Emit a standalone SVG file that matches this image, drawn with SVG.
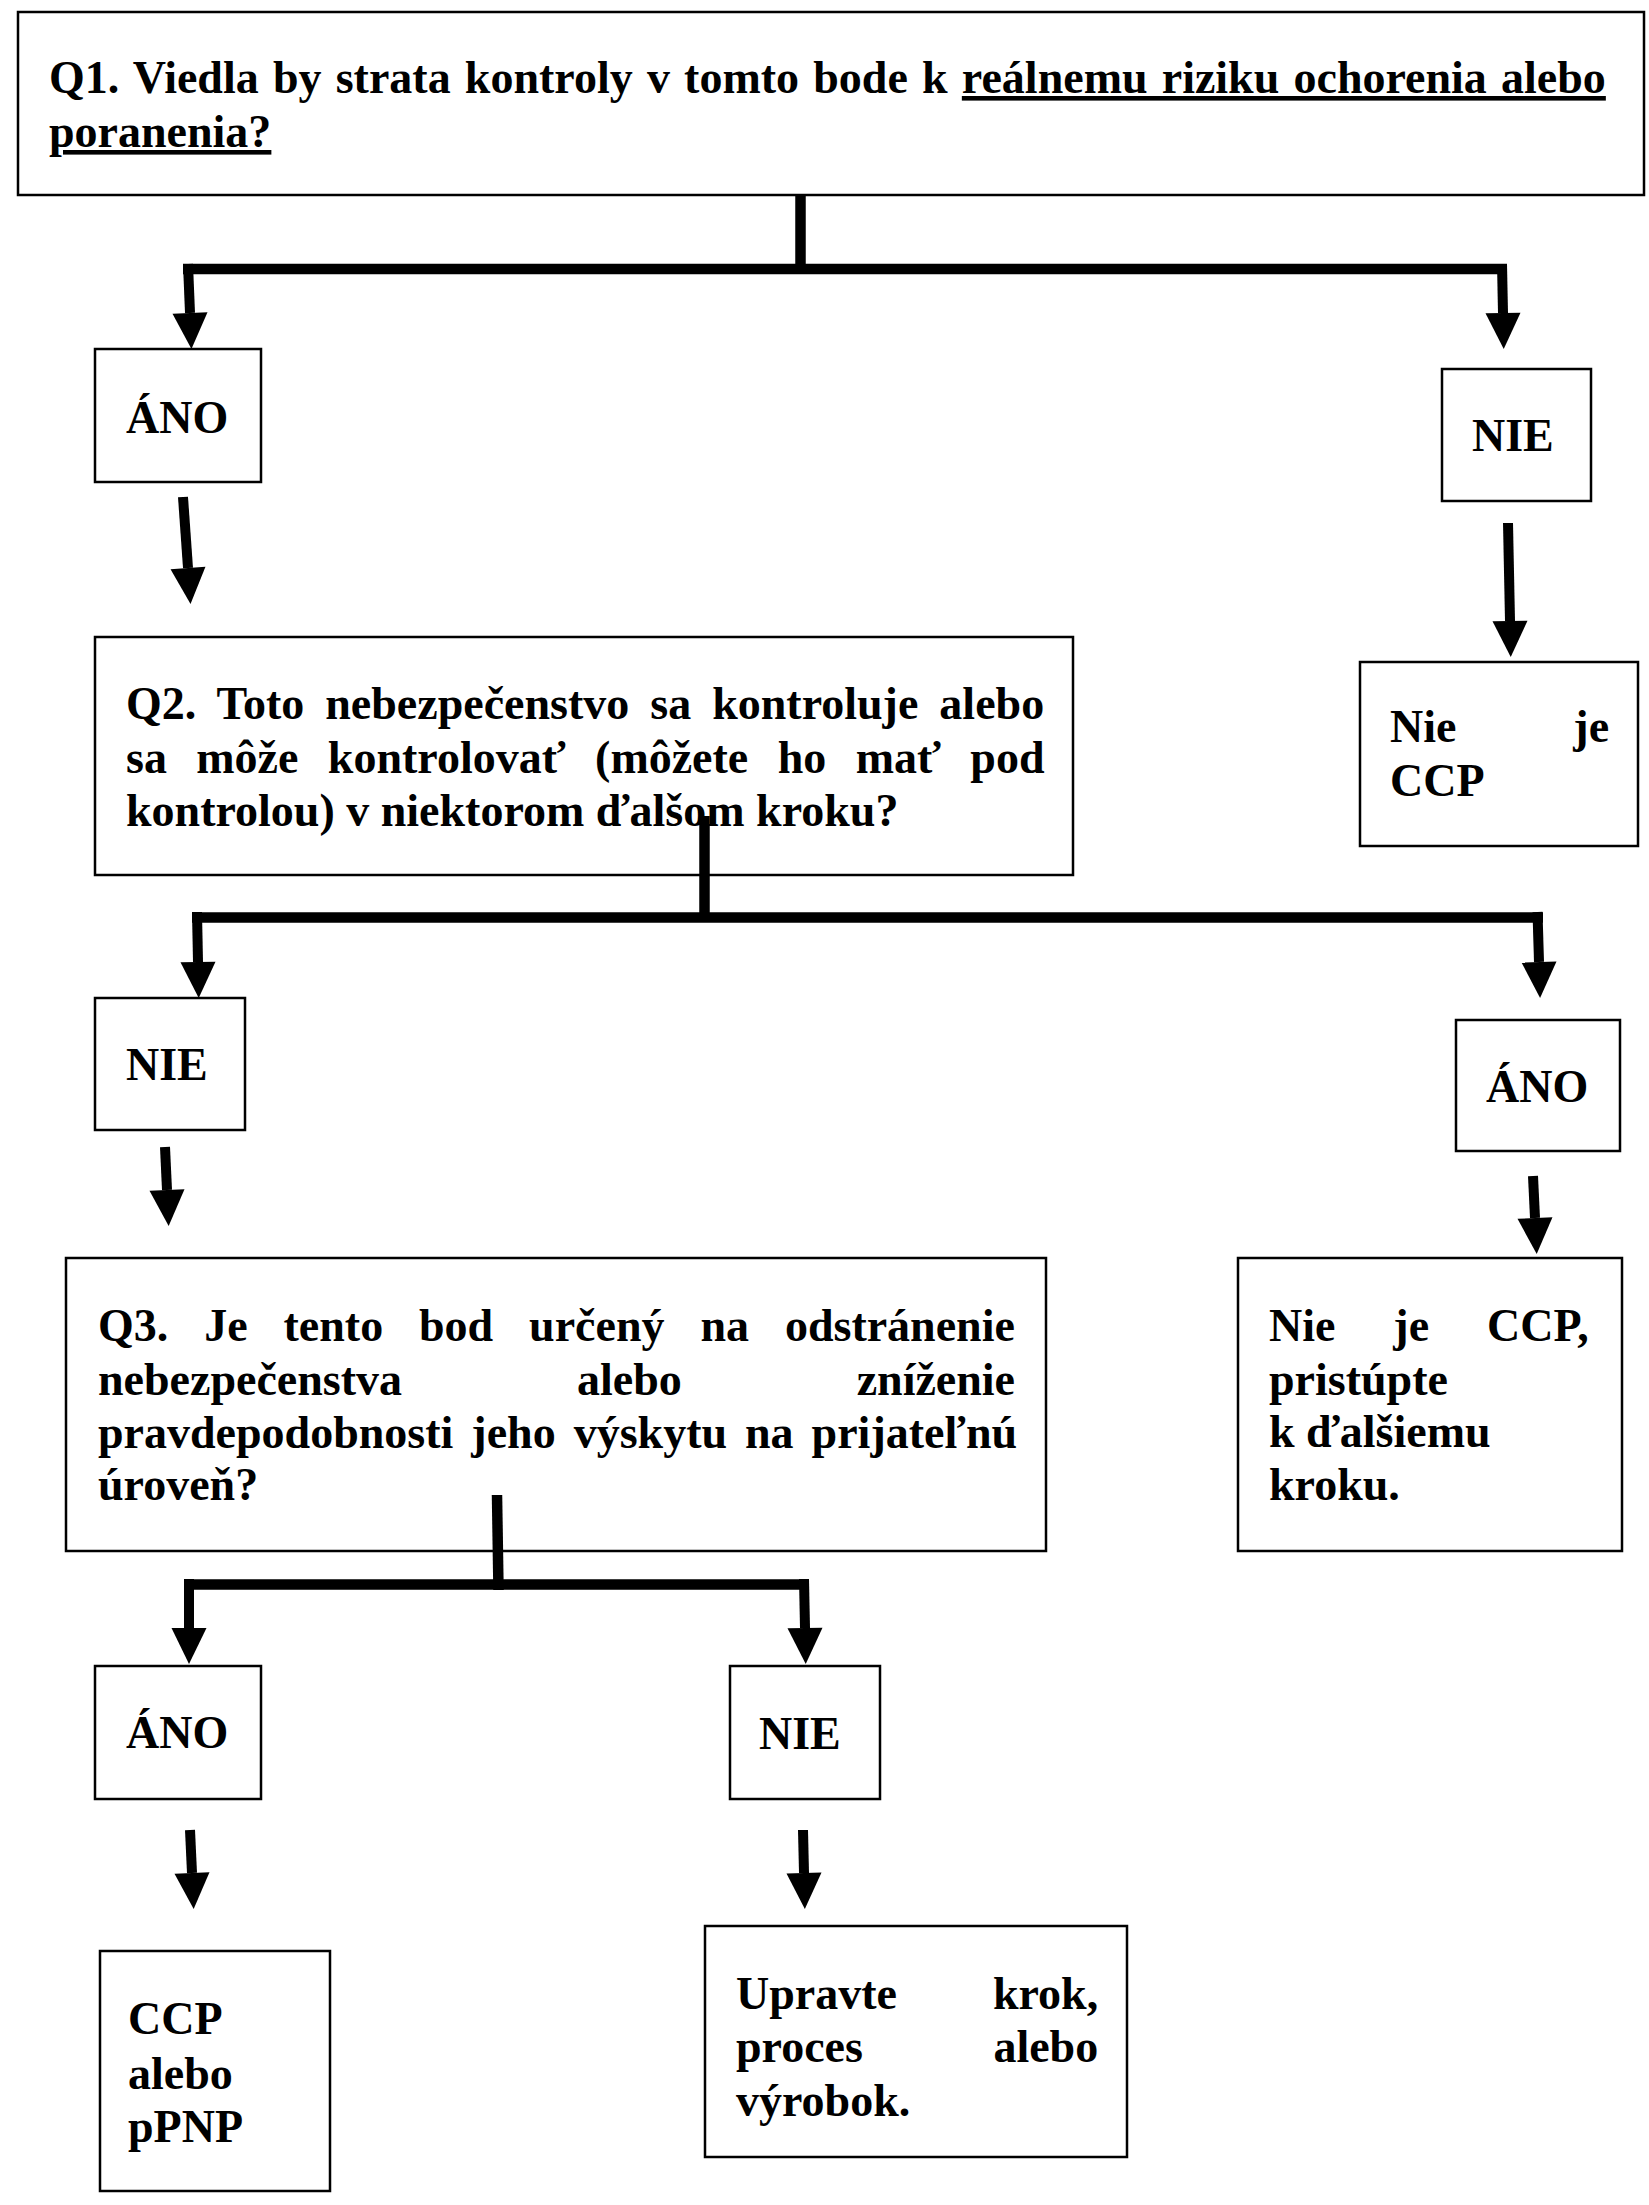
<svg xmlns="http://www.w3.org/2000/svg" width="1649" height="2205" viewBox="0 0 1649 2205">
<style>
  .box { fill: #fff; stroke: #000; stroke-width: 2.5; }
  .t { font-family: "Liberation Serif", "Times New Roman", serif; font-weight: bold; font-size: 46px; fill: #000; }
  .ln { fill: none; stroke: #000; stroke-width: 10.5; stroke-linecap: butt; }
  .ar { fill: none; stroke: #000; stroke-width: 10; marker-end: url(#ah); }
</style>
<defs>
  <marker id="ah" markerUnits="userSpaceOnUse" markerWidth="40" markerHeight="40" viewBox="0 -20 40 40" refX="0" refY="0" orient="auto" overflow="visible">
    <path d="M0,-17.5 L36,0 L0,17.5 z" fill="#000"/>
  </marker>
</defs>
<rect width="1649" height="2205" fill="#fff"/>

<g id="q1">
  <rect class="box" x="18" y="12" width="1626" height="183"/>
  <text class="t" x="49" y="93" word-spacing="2.7">Q1. Viedla by strata kontroly v tomto bode k <tspan text-decoration="underline">reálnemu riziku ochorenia alebo</tspan></text>
  <text class="t" x="49" y="147"><tspan text-decoration="underline">poranenia?</tspan></text>
</g>

<g id="ano1">
  <rect class="box" x="95" y="349" width="166" height="133"/>
  <text class="t" x="126" y="433">ÁNO</text>
</g>

<g id="nie1">
  <rect class="box" x="1442" y="369" width="149" height="132"/>
  <text class="t" x="1472" y="451">NIE</text>
</g>

<g id="niejeccp1">
  <rect class="box" x="1360" y="662" width="278" height="184"/>
  <text class="t" x="1390" y="742" word-spacing="105.4">Nie je</text>
  <text class="t" x="1390" y="796">CCP</text>
</g>

<g id="q2">
  <rect class="box" x="95" y="637" width="978" height="238"/>
  <text class="t" x="126" y="719" word-spacing="9.5">Q2. Toto nebezpečenstvo sa kontroluje alebo</text>
  <text class="t" x="126" y="773" word-spacing="17.9">sa môže kontrolovať (môžete ho mať pod</text>
  <text class="t" x="126" y="826">kontrolou) v niektorom ďalšom kroku?</text>
</g>

<g id="nie2">
  <rect class="box" x="95" y="998" width="150" height="132"/>
  <text class="t" x="126" y="1080">NIE</text>
</g>

<g id="ano2">
  <rect class="box" x="1456" y="1020" width="164" height="131"/>
  <text class="t" x="1486" y="1102">ÁNO</text>
</g>

<g id="q3">
  <rect class="box" x="66" y="1258" width="980" height="293"/>
  <text class="t" x="98" y="1341" word-spacing="24.4">Q3. Je tento bod určený na odstránenie</text>
  <text class="t" x="98" y="1395" word-spacing="163.4">nebezpečenstva alebo zníženie</text>
  <text class="t" x="98" y="1448" word-spacing="6.5">pravdepodobnosti jeho výskytu na prijateľnú</text>
  <text class="t" x="98" y="1500">úroveň?</text>
</g>

<g id="niejeccp2">
  <rect class="box" x="1238" y="1258" width="384" height="293"/>
  <text class="t" x="1269" y="1341" word-spacing="46.4">Nie je CCP,</text>
  <text class="t" x="1269" y="1395">pristúpte</text>
  <text class="t" x="1269" y="1447">k ďalšiemu</text>
  <text class="t" x="1269" y="1500">kroku.</text>
</g>

<g id="ano3">
  <rect class="box" x="95" y="1666" width="166" height="133"/>
  <text class="t" x="126" y="1748">ÁNO</text>
</g>

<g id="nie3">
  <rect class="box" x="730" y="1666" width="150" height="133"/>
  <text class="t" x="759" y="1749">NIE</text>
</g>

<g id="ccp">
  <rect class="box" x="100" y="1951" width="230" height="240"/>
  <text class="t" x="128" y="2034">CCP</text>
  <text class="t" x="128" y="2089">alebo</text>
  <text class="t" x="128" y="2142">pPNP</text>
</g>

<g id="upravte">
  <rect class="box" x="705" y="1926" width="422" height="231"/>
  <text class="t" x="736" y="2009" word-spacing="84.5">Upravte krok,</text>
  <text class="t" x="736" y="2062" word-spacing="119">proces alebo</text>
  <text class="t" x="736" y="2116">výrobok.</text>
</g>

<g id="connectors">
  <!-- Q1 split -->
  <path class="ln" d="M800.5,194 V274"/>
  <path class="ln" d="M183,269 H1507"/>
  <path class="ar" d="M188,264 L190,313"/>
  <path class="ar" d="M1502,264 L1503,313"/>
  <!-- ÁNO1 to Q2 -->
  <path class="ar" d="M183,497 L188,568"/>
  <!-- NIE1 to Nie je CCP -->
  <path class="ar" d="M1508,523 L1510,621"/>
  <!-- Q2 split -->
  <path class="ln" d="M704.5,816 V922"/>
  <path class="ln" d="M192,917.5 H1543"/>
  <path class="ar" d="M197,912 L198,962"/>
  <path class="ar" d="M1537.5,912 L1539,962"/>
  <!-- NIE2 to Q3 -->
  <path class="ar" d="M165,1147 L167,1190"/>
  <!-- ÁNO2 to Nie je CCP, -->
  <path class="ar" d="M1533,1176 L1535,1218"/>
  <!-- Q3 split -->
  <path class="ln" d="M497,1495 L498.5,1590"/>
  <path class="ln" d="M184,1584.5 H809"/>
  <path class="ar" d="M189,1579 L189,1628"/>
  <path class="ar" d="M804,1579 L805,1628"/>
  <!-- ÁNO3 to CCP -->
  <path class="ar" d="M190,1830 L192,1873"/>
  <!-- NIE3 to Upravte -->
  <path class="ar" d="M803,1830 L804,1873"/>
</g>
</svg>
